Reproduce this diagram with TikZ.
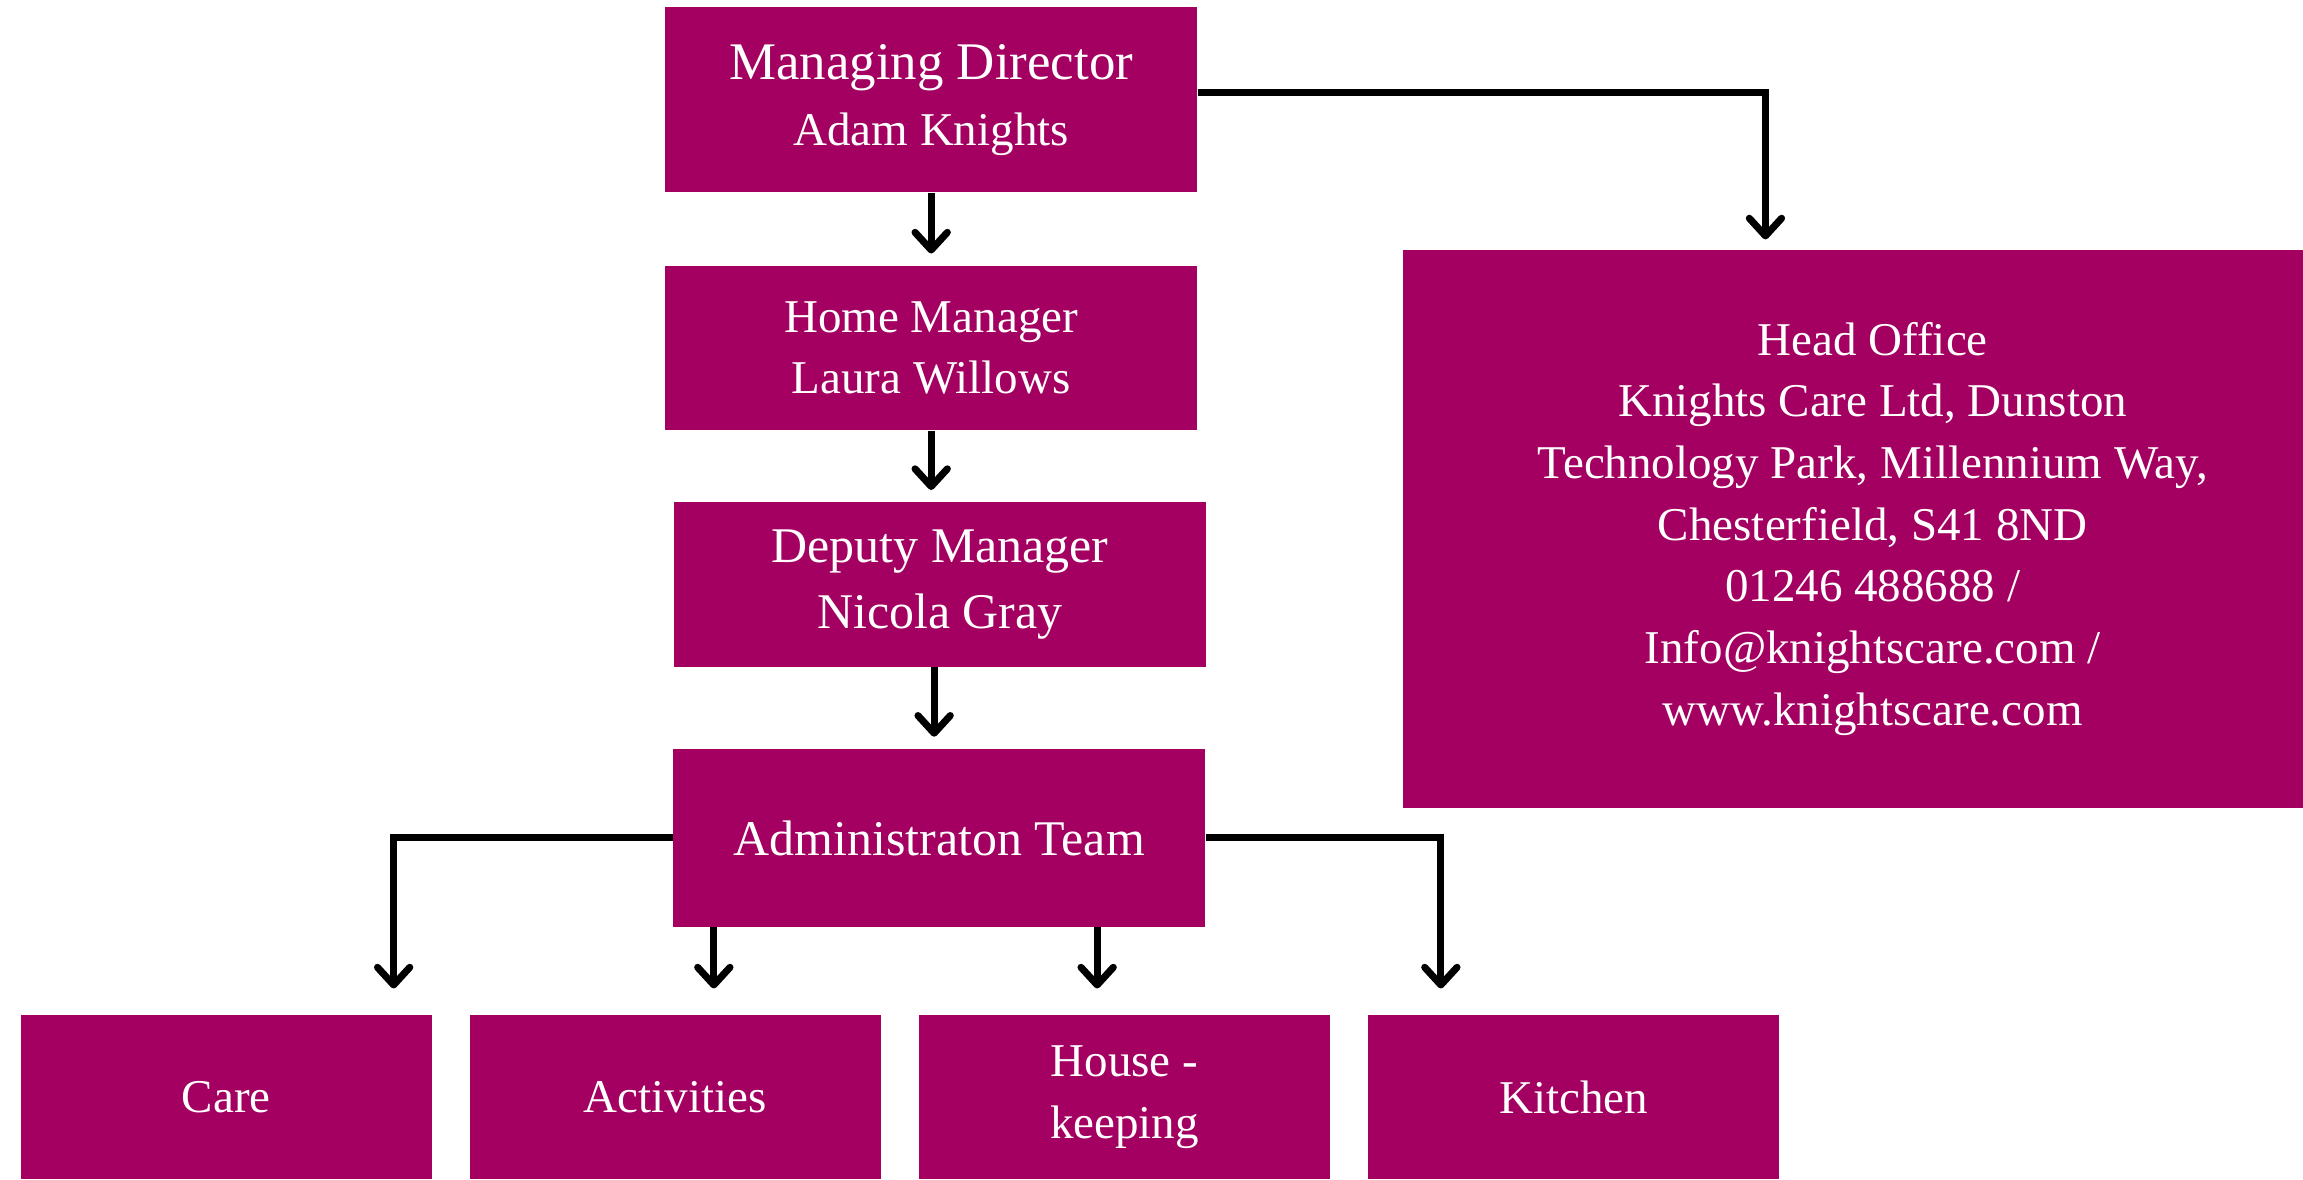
\documentclass[tikz,border=0pt]{standalone}
\usepackage{fontspec}
\setmainfont{Liberation Serif}
\usetikzlibrary{positioning,arrows.meta}
\definecolor{knight}{RGB}{163,0,98}
\tikzset{
box/.style={fill=knight, text=white, align=center, inner sep=0pt,
  font=\fontsize{16}{21}\selectfont},
big/.style={font=\fontsize{18}{22.5}\selectfont},
mid/.style={font=\fontsize{17}{22.5}\selectfont},
staff/.style={box, minimum width=181pt, minimum height=56pt},
team/.style={box, minimum width=140pt, minimum height=56pt},
link/.style={line width=2.4pt,
  -{Straight Barb[round, length=6pt, width=11pt]}},
}

\begin{document}
\begin{tikzpicture}[x=0.5pt, y=-0.5pt, node distance=12.5pt]
\useasboundingbox (0,0) rectangle (1568,803);

\node[staff, big, minimum height=63pt] (md) at (634,68)
  {Managing Director\\{\fontsize{16}{22.5}\selectfont Adam Knights}};
\node[staff] (hm) at (634,237) {Home Manager\\Laura Willows};
\node[staff, mid] (dm) at (640,398) {Deputy Manager\\Nicola Gray};
\node[staff, mid, minimum height=60.5pt] (adm) at (639.5,570.5) {Administraton Team};
\node[box, minimum width=320pt, minimum height=190pt] (ho) at (1275,360)
  {Head Office\\Knights Care Ltd, Dunston\\Technology Park, Millennium Way,\\Chesterfield, S41 8ND\\01246 488688 /\\Info@knightscare.com /\\www.knightscare.com};

\node[team] (care) at (154,747) {Care};
\node[team, right=of care] (act) {Activities};
\node[team, right=of act] (hk) {House -\\keeping};
\node[team, right=of hk] (kit) {Kitchen};

\coordinate (hoin) at (1202,163);
\coordinate (careA) at (268,673);
\coordinate (actA) at (486,673);
\coordinate (hkA) at (747,673);
\coordinate (kitA) at (981,673);

\draw[link] ([yshift=2.5pt]md.east) -| (hoin);
\draw[link, shorten >=4pt] (md.south) -- (hm.north);
\draw[link, shorten >=4pt] (hm.south) -- (hm.south |- dm.north);
\draw[link, shorten >=4pt] ([xshift=-2pt]dm.south) -- ([xshift=-2pt]dm.south |- adm.north);
\draw[link] (adm.west) -| (careA);
\draw[link] (adm.east) -| (kitA);
\draw[link] (adm.south -| actA) -- (actA);
\draw[link] (adm.south -| hkA) -- (hkA);
\end{tikzpicture}
\end{document}
